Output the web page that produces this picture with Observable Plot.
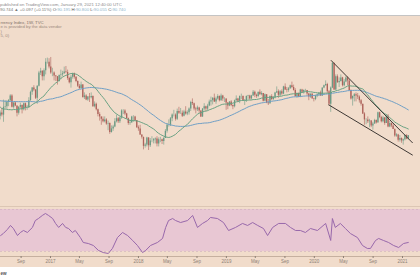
<!DOCTYPE html>
<html>
<head>
<meta charset="utf-8">
<script src="https://cdn.jsdelivr.net/npm/d3@7"></script>
<script src="https://cdn.jsdelivr.net/npm/@observablehq/plot@0.6"></script>
<style>
html,body{margin:0;padding:0;background:#fff;width:420px;height:280px;overflow:hidden;font-family:"Liberation Sans",Arial,sans-serif;}
svg{display:block;}
#main,#rsi{overflow:hidden;width:420px;}
#rsi{border-top:1px solid #dcc6b4;}
</style>
</head>
<body>
<div id="header"></div>
<div id="main"></div>
<div id="rsi"></div>
<div id="footer"></div>
<script>
// ---------- DATA (weekly, Monday-dated bars) ----------
const firstWeek = "2015-06-22"; // first warm-up week (off-screen, feeds the moving averages)
const warmupClose = [95.4,96.1,96.0,97.9,97.2,97.3,97.6,96.6,94.9,95.9,96.2,95.3,95.1,96.2,96.1,95.1,94.6,96.9,97.2,99.2,99.1,99.6,100.0,98.3,97.6,98.7,98.1,98.6,98.5,99.0,99.5,99.6,97.0,96.2,96.6,98.1,97.3,96.2,95.1,95.9,94.6,94.1,94.6,95.1,93.1,93.9,94.6,95.3,95.5,94.0];

const close2016 = [94.55,94.2,95.5,95.6,96.3,96.6,97.4,95.5,96.2,95.7,94.5,95.5,95.8,95.1,96.1,95.4,95.4,96.6,98.0,98.7,98.4,97.0,99.0,101.2,101.5,100.6,101.6,103.0,103.0,102.2];
const high2016  = [94.9,95.3,96.7,96.6,96.6,96.8,97.6,97.6,96.3,96.4,95.7,95.6,96.2,95.9,96.2,96.2,95.8,97.1,98.2,98.8,99.1,98.4,99.1,101.5,102.0,101.6,101.9,103.6,103.7,103.6];
const low2016   = [93.4,93.9,93.0,95.2,95.2,95.6,96.4,95.4,95.2,95.6,93.9,94.2,95.2,94.4,94.9,94.9,95.0,95.4,96.5,97.5,98.1,96.8,96.0,98.9,100.8,99.9,99.9,100.9,102.7,101.9];

const close2017 = [101.2,101.2,100.7,100.6,99.8,100.8,100.9,101.1,101.4,101.3,100.3,99.6,100.5,101.1,100.5,99.8,99.0,98.6,99.2,97.1,97.4,96.7,97.2,97.1,97.3,95.6,96.0,95.1,94.3,93.9,93.5,93.1,93.4,92.7,92.8,91.3,91.9,92.2,93.1,93.6,93.1,93.7,94.9,94.9,94.4,93.6,92.8,92.9,93.9,93.9,93.3,92.1];
const high2017  = [103.8,102.0,101.4,100.8,100.6,100.9,101.7,101.5,102.2,102.3,101.7,100.5,100.8,101.2,101.2,100.6,99.9,99.3,99.7,99.3,97.9,97.6,97.3,97.8,97.9,97.4,96.4,96.2,95.2,94.6,93.9,93.9,93.9,93.6,93.2,92.9,92.4,92.5,93.6,94.2,93.8,93.9,95.1,95.1,95.1,94.5,93.7,93.4,94.0,94.1,94.0,93.3];
const low2017   = [101.0,100.6,99.9,99.8,99.2,99.7,100.1,100.6,101.0,101.1,100.0,99.4,98.7,100.2,100.2,99.6,98.8,98.5,98.6,97.1,96.8,96.6,96.5,96.3,96.9,95.5,95.4,94.9,93.9,93.2,92.5,92.9,92.9,92.5,91.6,91.0,91.2,91.5,92.1,92.9,92.8,92.8,93.5,94.3,94.1,93.5,92.5,92.5,92.9,93.0,93.1,92.0];

const close2018 = [91.9,90.9,90.5,89.0,89.2,90.4,89.1,89.9,89.9,90.1,90.2,89.4,90.1,90.1,89.8,90.3,91.5,92.5,92.5,93.6,94.2,94.2,93.5,94.8,94.5,94.5,94.0,94.7,94.4,94.6,95.2,96.3,96.1,95.2,95.1,95.4,94.9,93.9,95.2,95.6,95.2,95.7,96.4,96.6,97.0,96.4,96.9,97.3,96.6,97.4,96.9,96.9,96.2];
const high2018  = [92.4,92.5,90.9,90.5,89.5,90.5,90.4,90.3,90.6,90.3,90.4,90.6,90.4,90.5,90.2,90.5,91.8,92.8,93.4,93.8,94.4,95.0,94.4,95.2,95.5,95.3,94.9,95.0,95.6,94.9,95.4,96.5,96.9,96.2,95.5,95.7,95.5,94.9,95.3,96.1,95.7,96.0,96.7,97.2,97.1,97.7,97.2,97.6,97.4,97.7,97.5,97.1,96.9];
const low2018   = [91.5,90.8,90.2,88.4,88.7,88.9,88.3,88.8,89.6,89.4,89.4,88.9,88.9,89.6,89.3,89.2,90.3,91.2,92.2,92.3,93.1,93.9,93.2,93.3,94.3,94.3,93.8,93.9,94.2,94.1,94.2,94.8,95.8,94.9,94.4,94.8,94.5,93.8,93.8,94.9,94.8,94.9,95.6,95.7,95.9,96.3,96.0,96.7,96.4,96.5,96.5,96.3,95.0];

const close2019 = [95.7,96.4,95.8,95.6,96.6,96.9,96.5,97.3,97.3,96.6,96.6,97.3,97.4,96.9,97.4,98.0,97.5,97.3,98.0,97.6,97.8,96.5,97.6,96.2,96.1,97.3,96.8,97.1,97.9,98.1,97.5,98.1,97.7,98.9,98.4,98.3,98.6,99.1,98.8,98.3,97.3,97.8,97.2,98.4,98.0,98.3,98.3,97.7,97.2,97.7,96.9,96.8];
const high2019  = [96.3,96.4,96.6,95.9,96.7,97.4,97.0,97.4,97.7,97.4,96.8,97.4,97.5,97.5,97.5,98.3,98.2,97.7,98.0,98.4,98.1,97.8,97.7,97.6,96.8,97.4,97.6,97.3,98.0,98.9,98.4,98.3,98.4,99.0,99.4,98.8,98.8,99.2,99.7,99.2,98.6,97.9,97.9,98.5,98.5,98.4,98.5,98.3,97.8,97.7,97.7,97.0];
const low2019   = [95.1,95.6,95.6,95.1,95.4,96.5,96.3,96.1,96.8,96.5,95.8,96.3,96.8,96.7,96.7,97.3,97.1,97.0,97.1,97.5,97.4,96.4,96.5,96.1,95.8,96.0,96.6,96.6,96.9,97.8,97.0,97.2,97.5,97.6,98.3,97.9,98.0,98.5,98.6,98.2,97.2,97.0,97.1,97.1,97.8,97.7,98.1,97.4,96.6,97.0,96.9,96.4];

const close2020 = [97.4,97.6,97.9,97.4,98.7,99.1,99.3,98.1,96.0,98.7,102.8,98.4,100.6,99.6,99.8,100.4,99.1,99.7,100.4,99.9,98.3,96.9,97.3,97.6,97.4,97.2,96.6,96.0,94.4,93.4,93.4,93.1,93.2,92.4,92.7,93.3,92.9,94.6,93.8,93.1,93.7,92.8,94.0,92.2,92.8,92.4,91.8,90.7,90.9,90.0,90.3,89.9];
const high2020  = [97.5,97.7,97.9,98.2,98.7,99.2,99.9,99.5,98.3,98.9,103.0,102.9,100.9,100.9,100.4,100.9,100.5,100.1,100.6,100.6,100.1,98.4,97.4,97.8,97.9,97.8,97.4,96.8,96.0,94.6,93.6,93.9,93.5,93.3,93.0,93.5,93.4,94.7,94.7,94.0,94.0,93.8,94.3,94.3,93.2,92.9,92.7,91.9,91.1,91.0,90.8,90.4];
const low2020   = [96.6,97.1,97.3,97.3,97.3,98.6,99.0,97.8,95.7,94.65,98.6,98.3,98.3,99.5,98.8,99.7,98.9,98.9,99.6,99.1,98.2,96.7,95.7,96.4,96.4,96.8,96.2,95.7,94.3,92.5,92.6,92.8,92.1,92.1,91.7,92.7,92.7,92.9,93.6,92.9,92.9,92.5,92.8,92.1,92.1,92.1,91.8,90.5,90.5,89.7,89.7,89.5];

const close2021 = [90.1,90.8,90.2,90.74];
const high2021  = [90.2,90.9,90.95,90.8];
const low2021   = [89.2,89.9,90.1,90.05];

// RSI(14) values
const rsiDates = ["2016-06-08","2016-06-19","2016-07-06","2016-07-19","2016-07-31","2016-08-17","2016-08-29","2016-09-11","2016-09-27","2016-10-18","2016-10-30","2016-11-12","2016-11-28","2016-12-11","2016-12-24",
  "2017-01-10","2017-01-22","2017-02-04","2017-02-20","2017-03-05","2017-03-17","2017-04-02","2017-04-14","2017-05-05","2017-05-17","2017-06-07","2017-06-28","2017-07-19","2017-08-08","2017-08-29","2017-09-15","2017-10-06","2017-10-27","2017-11-17","2017-12-08","2017-12-28",
  "2018-01-18","2018-01-31","2018-02-20","2018-03-21","2018-04-11","2018-04-24","2018-05-06","2018-05-23","2018-06-04","2018-06-25","2018-07-24","2018-08-14","2018-09-03","2018-09-24","2018-10-15","2018-10-27","2018-11-25","2018-12-20",
  "2019-01-10","2019-02-08","2019-03-09","2019-03-30","2019-04-20","2019-05-11","2019-06-04","2019-06-21","2019-07-12","2019-08-06","2019-09-03","2019-09-24","2019-10-15","2019-11-04","2019-11-25","2019-12-16",
  "2020-01-14","2020-02-17","2020-03-09","2020-03-16","2020-03-28","2020-04-18","2020-05-09","2020-05-30","2020-06-28","2020-07-19","2020-08-08","2020-08-21","2020-09-11","2020-09-24","2020-10-14","2020-11-04","2020-11-25","2020-12-16",
  "2021-01-05","2021-01-25"];
const rsiValues = [45.2,47.1,51.0,54.8,51.9,45.2,48.1,50.0,48.1,52.9,59.5,61.4,64.3,66.2,64.3,
  61.4,56.7,52.9,56.7,52.9,51.9,48.1,50.0,43.3,38.6,37.6,35.7,31.0,29.0,28.1,32.9,43.3,48.1,45.2,40.5,35.7,
  29.0,31.0,35.7,38.6,42.4,52.9,59.5,61.4,59.5,57.6,59.5,64.3,52.9,56.7,59.5,62.4,61.4,57.6,
  50.0,52.9,56.7,54.8,57.6,54.8,51.9,45.2,52.9,56.7,56.7,52.9,50.0,50.0,48.1,51.9,
  50.0,56.7,40.5,61.4,52.9,56.7,51.9,47.1,43.3,35.7,32.9,32.9,40.5,42.4,40.5,38.6,35.7,33.8,
  37.6,38.6];

// Falling-wedge trend lines drawn on the chart: [date, price]
const wedgeUpper = [["2020-03-11", 103.3], ["2021-02-11", 89.6]];
const wedgeLower = [["2020-03-01", 95.9], ["2021-02-11", 87.55]];

const maShort = 20, maLong = 50;
const rsiBand = [30, 70];

const tickDates  = ["2016-09-01","2017-01-01","2017-05-01","2017-09-01","2018-01-01","2018-05-01","2018-09-01","2019-01-01","2019-05-01","2019-09-01","2020-01-01","2020-05-01","2020-09-01","2021-01-01"];
const tickLabels = ["Sep","2017","May","Sep","2018","May","Sep","2019","May","Sep","2020","May","Sep","2021"];

const headerLine1 = "published on TradingView.com, January 29, 2021 12:40:00 UTC";
const headerLine2 = [["90.744 ▲ +0.097 (+0.11%) ", "#7a7a7a"], ["O:", "#555"], ["90.195 ", "#8fb6cc"], ["H:", "#555"], ["90.800 ", "#8fb6cc"], ["L:", "#555"], ["90.055 ", "#8fb6cc"], ["C:", "#555"], ["90.740", "#8fb6cc"]];
const legendLines = ["rrency Index, 1W, TVC", "e is provided by the data vendor", ")", "5, 0)"];
const footerText = "ew";

// ---------- STYLE ----------
const BG = "#f1dccb", UP = "#6a9a84", DOWN = "#ad625a";
const GREEN = "#6aa283", BLUE = "#6f9fc6", PINK = "#e8c7d3", PURPLE = "#9868ab", WEDGE = "#3f3935";
const xDomain = [new Date("2016-06-07T12:00Z"), new Date("2021-03-16T16:00Z")];

// ---------- BUILD ----------
const allClose = warmupClose.concat(close2016, close2017, close2018, close2019, close2020, close2021);
const highs = [].concat(high2016, high2017, high2018, high2019, high2020, high2021);
const lows  = [].concat(low2016, low2017, low2018, low2019, low2020, low2021);
const start = new Date(firstWeek + "T00:00Z");
const series = allClose.map((c, i) => ({date: d3.utcMonday.offset(start, i), close: c}));
const nW = warmupClose.length;
const candles = highs.map((h, j) => {
  const i = nW + j;
  return {date: series[i].date, open: allClose[i - 1], close: allClose[i], high: h, low: lows[j]};
});
candles.forEach(d => d.up = d.close >= d.open);
const rsiSeries = rsiDates.map((d, i) => ({date: new Date(d + "T00:00Z"), rsi: rsiValues[i]}));
const toPts = a => a.map(([d, p]) => ({date: new Date(d + "T00:00Z"), price: p}));

// header
const hdr = d3.create("svg").attr("width", 420).attr("height", 16);
hdr.append("rect").attr("width", 420).attr("height", 15).attr("fill", "#fff");
hdr.append("line").attr("x1", 0).attr("x2", 420).attr("y1", 15.5).attr("y2", 15.5).attr("stroke", "#c4c4c4");
hdr.append("text").attr("x", 0).attr("y", 5.6).attr("font-size", 4.3).attr("fill", "#8a8a8a").text(headerLine1);
const t2 = hdr.append("text").attr("x", 0).attr("y", 11.2).attr("font-size", 4.3);
headerLine2.forEach(([s, c]) => t2.append("tspan").attr("fill", c).text(s));
document.getElementById("header").append(hdr.node());

// main price pane
const main = Plot.plot({
  width: 420, height: 190, margin: 0,
  style: {background: BG, fontFamily: "Liberation Sans, Arial, sans-serif"},
  x: {type: "utc", domain: xDomain, axis: null},
  y: {domain: [78.967, 110.633], axis: null},
  marks: [
    Plot.ruleX(candles, {x: "date", y1: "low", y2: "high", stroke: d => d.up ? UP : DOWN, strokeWidth: 0.6, clip: true}),
    Plot.ruleX(candles, {x: "date", y1: "open", y2: "close", stroke: d => d.up ? UP : DOWN, strokeWidth: 1.3, clip: true}),
    Plot.lineY(series, Plot.windowY({k: maLong, anchor: "end"}, {x: "date", y: "close", stroke: BLUE, strokeWidth: 1, clip: true})),
    Plot.lineY(series, Plot.windowY({k: maShort, anchor: "end"}, {x: "date", y: "close", stroke: GREEN, strokeWidth: 1, clip: true})),
    Plot.line(toPts(wedgeUpper), {x: "date", y: "price", stroke: WEDGE, strokeWidth: 1, clip: true}),
    Plot.line(toPts(wedgeLower), {x: "date", y: "price", stroke: WEDGE, strokeWidth: 1, clip: true}),
    ...legendLines.map((s, i) => Plot.text([s], {text: d => d, frameAnchor: "top-left", textAnchor: "start", lineAnchor: "bottom", dx: 0, dy: 7 + i * 4.5, fontSize: 4.3, fill: i === 0 ? "#7d6f66" : "#9b8a7e"}))
  ]
});
document.getElementById("main").append(main);

// RSI pane + time axis
const labelOf = new Map(tickDates.map((d, i) => [+new Date(d + "T00:00Z"), tickLabels[i]]));
const rsiPlot = Plot.plot({
  width: 420, height: 60, marginTop: 0, marginBottom: 11, marginLeft: 0, marginRight: 0,
  style: {background: BG, fontFamily: "Liberation Sans, Arial, sans-serif"},
  x: {type: "utc", domain: xDomain},
  y: {domain: [25.24, 71.9], axis: null},
  marks: [
    Plot.rectY([rsiBand], {y1: d => d[0], y2: d => d[1], fill: PINK}),
    Plot.ruleY(rsiBand, {stroke: "#cfaebe", strokeWidth: 0.6, strokeDasharray: "2,2"}),
    Plot.lineY(rsiSeries, {x: "date", y: "rsi", stroke: PURPLE, strokeWidth: 1, clip: true}),
    Plot.frame({anchor: "bottom", stroke: "#c6b09f"}),
    Plot.axisX(tickDates.map(d => new Date(d + "T00:00Z")), {tickFormat: d => labelOf.get(+d), tickSize: 2, tickPadding: 1.5, fontSize: 4.5, color: "#8e8075"})
  ]
});
document.getElementById("rsi").append(rsiPlot);

// footer
const ftr = d3.create("svg").attr("width", 420).attr("height", 13);
ftr.append("rect").attr("width", 420).attr("height", 13).attr("fill", "#fff");
ftr.append("text").attr("x", 0.5).attr("y", 8).attr("font-size", 4.6).attr("font-weight", "bold").attr("fill", "#555").text(footerText);
document.getElementById("footer").append(ftr.node());
</script>
</body>
</html>
